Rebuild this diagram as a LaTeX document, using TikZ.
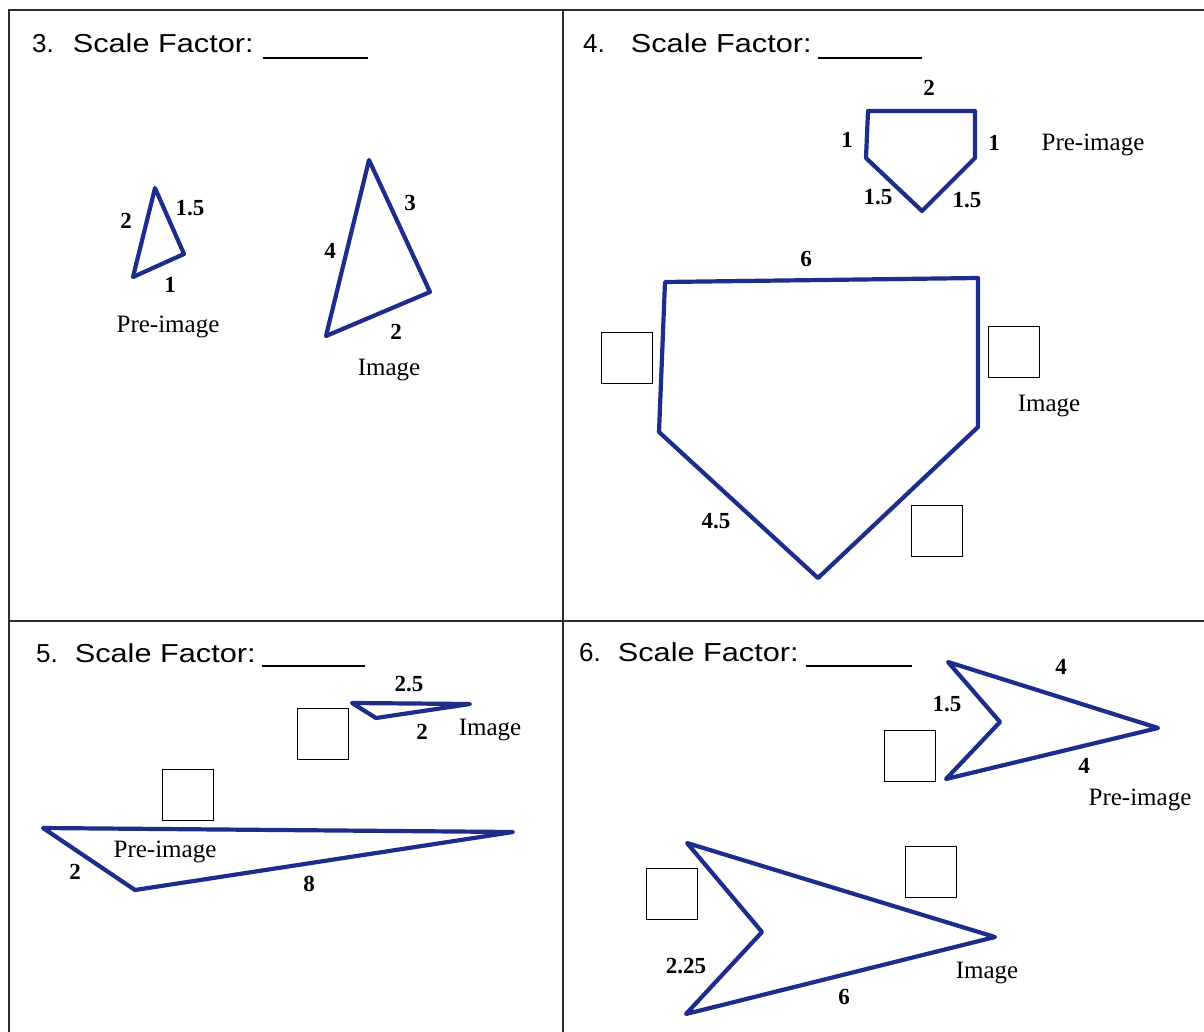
\documentclass[tikz,border=0pt]{standalone}
\usepackage{fontspec}
\setmainfont{Liberation Serif}
\setsansfont{Liberation Sans}
\usetikzlibrary{calc}
\definecolor{wsblue}{RGB}{30,44,140}
\definecolor{wsedge}{RGB}{45,45,45}
\newcommand{\sfword}{\scalebox{1.18}[1]{Scale Factor:}}
\tikzset{
  frame/.style={draw=wsedge, line width=1.8pt},
  fig/.style={draw=wsblue, line width=4.2pt, line join=round},
  ansbox/.style={
    draw=black, line width=1.4pt, minimum width=51pt, minimum height=51pt,
    inner sep=0pt
  },
  ttl/.style={font=\sffamily\fontsize{26}{26}\selectfont, anchor=base west, inner sep=0pt},
  blank/.style={draw=black, line width=1.5pt},
  len/.style={font=\bfseries\fontsize{23}{23}\selectfont, inner sep=1pt},
  lbl/.style={font=\fontsize{25}{25}\selectfont, inner sep=1pt},
  every picture/.append style={x=1pt, y=-1pt}
}

\begin{document}
\begin{tikzpicture}
  \useasboundingbox (0,0) rectangle (1204,1032);
  \fill[white] (0,0) rectangle (1204,1032);

  % grid of the four panels
  \draw[frame] (9,1032) -- (9,10) -- (1204,10);
  \draw[frame] (563,10) -- (563,1032);
  \draw[frame] (9,621) -- (1204,621);

  % panel 3
  \node[ttl] (t3) at (32,53) {3.\hspace{19pt}\sfword};
  \draw[blank] (263,58) -- (368,58);
  \draw[fig] (155,188) -- (133,277) -- (184,254) -- cycle;
  \node[len] (p3a) at (126,221) {2};
  \node[len] (p3b) at (190,208) {1.5};
  \node[len] (p3c) at (170,285) {1};
  \node[lbl] (pre3) at (168,327) {Pre-image};
  \draw[fig] (369,160) -- (326,336) -- (430,292) -- cycle;
  \node[len] (i3a) at (410,203) {3};
  \node[len] (i3b) at (330,251) {4};
  \node[len] (i3c) at (396,332) {2};
  \node[lbl] (img3) at (389,370) {Image};

  % panel 4
  \node[ttl] (t4) at (583,53) {4.\hspace{26pt}\sfword};
  \draw[blank] (818,58) -- (922,58);
  \draw[fig] (868,111) -- (975,111) -- (975,158) -- (922,211) -- (866,158) -- cycle;
  \node[len] (p4a) at (929,88) {2};
  \node[len] (p4b) at (847,140) {1};
  \node[len] (p4c) at (994,143) {1};
  \node[len] (p4d) at (878,197) {1.5};
  \node[len] (p4e) at (967,200) {1.5};
  \node[lbl] (pre4) at (1093,145) {Pre-image};
  \draw[fig] (665,282) -- (978,278) -- (978,427) -- (818,578) -- (659,432) -- cycle;
  \node[len] (i4a) at (806,259) {6};
  \node[len] (i4b) at (716,521) {4.5};
  \node[lbl] (img4) at (1049,406) {Image};
  \node[ansbox] (b4a) at (627,358) {};
  \node[ansbox] (b4b) at (1014,352) {};
  \node[ansbox] (b4c) at (937,531) {};

  % panel 5
  \node[ttl] (t5) at (36,662) {5.\hspace{17pt}\sfword};
  \draw[blank] (262,666) -- (365,666);
  \draw[fig] (352,703) -- (470,704) -- (376,718) -- cycle;
  \node[len] (i5a) at (409,684) {2.5};
  \node[len] (i5b) at (422,732) {2};
  \node[lbl] (img5) at (490,730) {Image};
  \node[ansbox] (b5a) at (323,734) {};
  \node[ansbox] (b5b) at (188,795) {};
  \draw[fig] (43,828) -- (513,832) -- (135,890) -- cycle;
  \node[lbl] (pre5) at (165,852) {Pre-image};
  \node[len] (p5a) at (75,872) {2};
  \node[len] (p5b) at (309,884) {8};

  % panel 6
  \node[ttl] (t6) at (579,661) {6.\hspace{17pt}\sfword};
  \draw[blank] (806,666) -- (912,666);
  \draw[fig] (948,662) -- (1158,728) -- (946,779) -- (1000,722) -- cycle;
  \node[len] (p6a) at (1061,667) {4};
  \node[len] (p6b) at (947,704) {1.5};
  \node[len] (p6c) at (1084,766) {4};
  \node[lbl] (pre6) at (1140,800) {Pre-image};
  \node[ansbox] (b6a) at (910,756) {};
  \draw[fig] (687,843) -- (995,937) -- (686,1014) -- (762,932) -- cycle;
  \node[len] (i6a) at (686,966) {2.25};
  \node[len] (i6b) at (844,997) {6};
  \node[lbl] (img6) at (987,973) {Image};
  \node[ansbox] (b6b) at (672,894) {};
  \node[ansbox] (b6c) at (931,872) {};
\end{tikzpicture}
\end{document}
